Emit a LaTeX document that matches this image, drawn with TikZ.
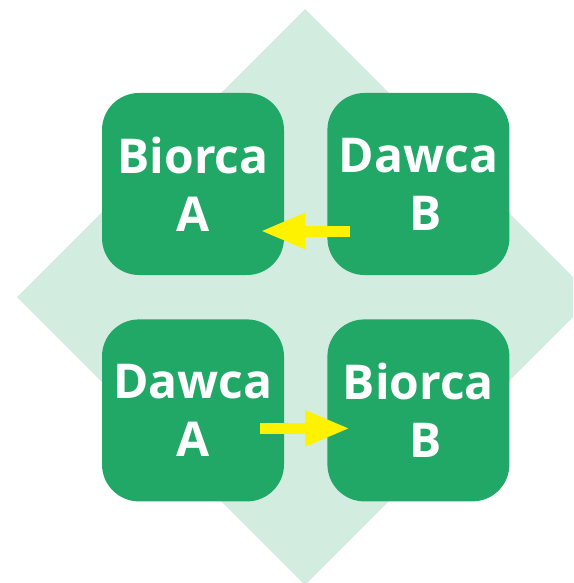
\documentclass[tikz,border=0pt]{standalone}
\usepackage{fontspec}
\setmainfont{Open Sans}
\usepackage{xcolor}
\usetikzlibrary{positioning,arrows.meta}
\definecolor{pairgreen}{RGB}{34,168,102}
\definecolor{pairmint}{RGB}{211,236,224}
\definecolor{pairyellow}{RGB}{255,242,0}

\begin{document}
\begin{tikzpicture}[x=1pt, y=-1pt,
  pairbox/.style={fill=pairgreen, text=white, rounded corners=37pt, minimum width=182pt, minimum height=182pt, inner sep=0pt, align=center, font=\bfseries\fontsize{48}{58}\selectfont},
  swaparrow/.style={draw=pairyellow, line width=11pt, -{Triangle[length=45pt, width=33pt]}}]
\clip (0,0) rectangle (573,583);
% background diamond
\fill[pairmint] (305,9) -- (593,297) -- (305,585) -- (17,297) -- cycle;
% the four boxes
\node[pairbox] (biorcaA) at (193,184) {Biorca\\A};
\node[pairbox, right=43pt of biorcaA] (dawcaB) {Dawca\\\hspace*{14pt}B};
\node[pairbox, below=44pt of biorcaA] (dawcaA) {Dawca\\A};
\node[pairbox, right=43pt of dawcaA] (biorcaB) {Biorca\\\hspace*{14pt}B};
% arrows
\draw[swaparrow] ([xshift=23pt, yshift=-47pt]dawcaB.west) -- ([xshift=-24pt, yshift=-47pt]biorcaA.east);
\draw[swaparrow] ([xshift=-24pt, yshift=-18pt]dawcaA.east) -- ([xshift=23pt, yshift=-18pt]biorcaB.west);
\end{tikzpicture}
\end{document}
